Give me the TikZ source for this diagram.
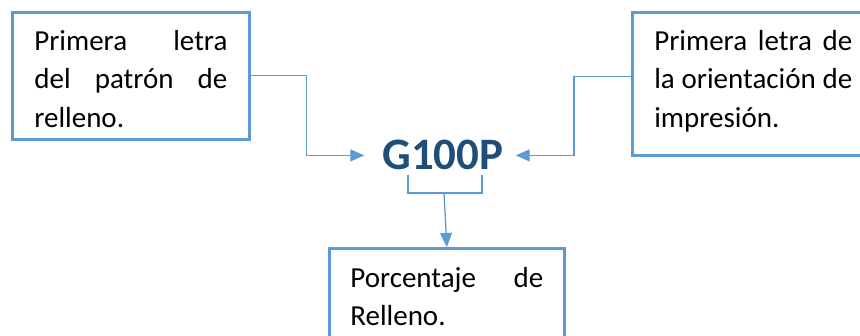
\documentclass[tikz,border=0pt]{standalone}
\usepackage{fontspec}
\setmainfont{Carlito}
\usetikzlibrary{arrows.meta}

\definecolor{azulclaro}{HTML}{5B9BD5}
\definecolor{azuloscuro}{HTML}{1F4E79}

\tikzset{
    caja/.style={draw=azulclaro, line width=2.7pt, anchor=north west, inner ysep=0pt,
        align=justify, font=\fontsize{29}{38.5}\selectfont},
    conector/.style={draw=azulclaro, line width=1.3pt},
    flecha/.style={conector, -{Triangle[length=14pt,width=12pt]}}
}

\begin{document}
\begin{tikzpicture}[x=1pt, y=-1pt]
        \useasboundingbox (0,0) rectangle (860,336);
        \clip (0,0) rectangle (860,336);
        \node[caja, inner xsep=22pt, text width=193pt, text height=38pt, text depth=89pt] (patron) at (11,11)
            {Primera letra\linebreak del patrón de\linebreak relleno.};
        \node[caja, inner xsep=22pt, text width=198pt, text height=38pt, text depth=105pt] (orientacion) at (631,11)
            {Primera letra de\linebreak la orientación de\linebreak impresión.};
        \node[caja, inner xsep=21pt, text width=193pt, text height=39pt, text depth=100pt] (porcentaje) at (328,247)
            {Porcentaje de\linebreak Relleno.};
        \node[anchor=base, inner sep=0pt, text=azuloscuro, font=\fontsize{45}{54}\selectfont\bfseries] (codigo) at (443,170) {G100P};
        \draw[flecha, shorten >=18pt] (patron.east) -- ++(56,0) |- (codigo.west);
        \draw[flecha, shorten >=12pt] ([yshift=7.5pt]orientacion.west) -- ++(-57,0) |- (codigo.east);
        \draw[conector] (408,175) |- (482,193) -- (482,175);
        \coordinate (llave) at (444,193);
        \draw[flecha] (llave) -- (porcentaje.north);
    \end{tikzpicture}
\end{document}
